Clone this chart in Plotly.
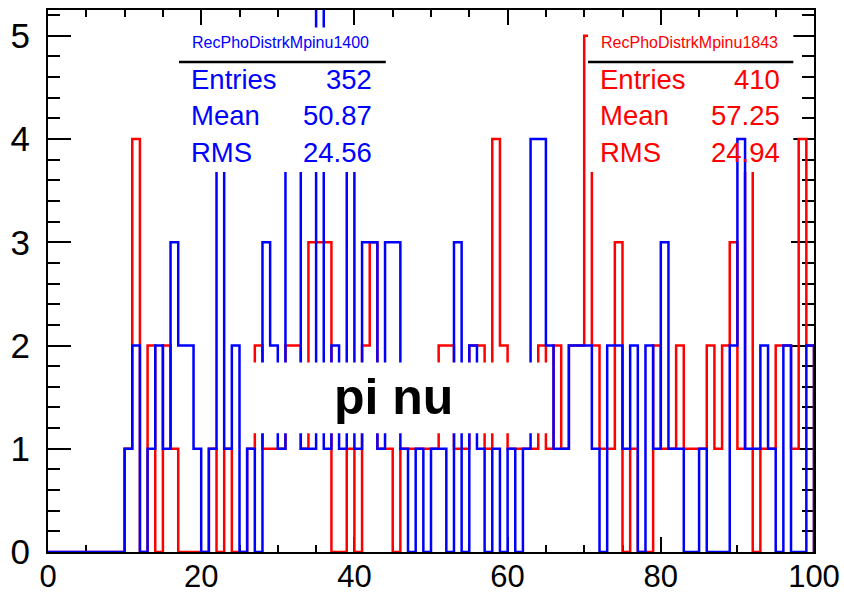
import numpy as np
import plotly.graph_objects as go

# ---- data -------------------------------------------------------------
bin_edges = np.arange(0, 101, 1)

blue_counts = [0, 0, 0, 0, 0, 0, 0, 0, 0, 0,
               1, 2, 0, 1, 2, 1, 3, 2, 2, 1,
               0, 1, 4, 1, 2, 0, 1, 0, 3, 2,
               1, 4, 4, 1, 1, 6, 1, 2, 1, 4,
               1, 3, 3, 1, 3, 3, 1, 0, 1, 0,
               1, 1, 0, 3, 0, 2, 1, 0, 1, 0,
               1, 0, 1, 4, 4, 2, 1, 1, 2, 2,
               2, 1, 0, 2, 2, 1, 2, 0, 2, 1,
               3, 1, 1, 0, 0, 1, 0, 0, 0, 2,
               4, 1, 1, 2, 1, 0, 2, 0, 0, 2]

red_counts = [0, 0, 0, 0, 0, 0, 0, 0, 0, 0,
              1, 4, 0, 2, 0, 2, 1, 0, 0, 0,
              0, 1, 0, 1, 0, 0, 1, 2, 1, 1,
              1, 2, 2, 1, 3, 3, 3, 0, 0, 1,
              0, 2, 3, 1, 1, 0, 1, 1, 1, 1,
              1, 2, 2, 1, 1, 2, 2, 1, 4, 2,
              1, 1, 1, 1, 2, 1, 2, 1, 2, 2,
              5, 2, 1, 1, 3, 0, 1, 0, 0, 2,
              1, 1, 2, 1, 1, 1, 2, 1, 2, 3,
              1, 4, 0, 1, 1, 2, 2, 1, 4, 2]

hist_names = ["RecPhoDistrkMpinu1400", "RecPhoDistrkMpinu1843"]
stat_labels = ["Entries", "Mean", "RMS"]
blue_stats = ["352", "50.87", "24.56"]
red_stats = ["410", "57.25", "24.94"]
x_ticks = [0, 20, 40, 60, 80, 100]
y_ticks = [0, 1, 2, 3, 4, 5]
tag_text = "pi nu"

# ---- styling ----------------------------------------------------------
BLUE = "#0000ff"
RED = "#ff0000"
FONT = "Arial, Liberation Sans, Helvetica, sans-serif"
Y_MAX = 5.25


def outline(counts):
    """Step outline of a histogram, ROOT style (closed down to zero at both ends)."""
    c = np.asarray(counts, dtype=float)
    xs = np.repeat(bin_edges, 2)
    ys = np.concatenate([[0.0], np.repeat(c, 2), [0.0]])
    return xs, ys


fig = go.Figure()

# red histogram (drawn first, sits underneath)
rx, ry = outline(red_counts)
fig.add_trace(go.Scatter(x=rx, y=ry, mode="lines",
                         line=dict(color=RED, width=2.5),
                         hoverinfo="skip", showlegend=False))

# red statistics box background: covers the red histogram only
RBOX = dict(x0=70.5, x1=97.3, y0=3.68, y1=5.08)
fig.add_trace(go.Scatter(x=[RBOX["x0"], RBOX["x1"], RBOX["x1"], RBOX["x0"], RBOX["x0"]],
                         y=[RBOX["y0"], RBOX["y0"], RBOX["y1"], RBOX["y1"], RBOX["y0"]],
                         mode="lines", fill="toself", fillcolor="white",
                         line=dict(width=0, color="white"),
                         hoverinfo="skip", showlegend=False))

# blue histogram on top
bx, by = outline(blue_counts)
fig.add_trace(go.Scatter(x=bx, y=by, mode="lines",
                         line=dict(color=BLUE, width=2.5),
                         hoverinfo="skip", showlegend=False))

# blue statistics box (above everything)
BBOX = dict(x0=17.1, x1=44.1, y0=3.68, y1=5.08)
fig.add_shape(type="rect", xref="x", yref="y", layer="above",
              fillcolor="white", line=dict(width=0), **BBOX)

# title separators
for box in (BBOX, RBOX):
    fig.add_shape(type="line", xref="x", yref="y", layer="above",
                  x0=box["x0"], x1=box["x1"], y0=4.746, y1=4.746,
                  line=dict(color="black", width=2.5))

# "pi nu" label box
fig.add_shape(type="rect", xref="x", yref="y", layer="above",
              x0=26.2, x1=65.6, y0=1.15, y1=1.835,
              fillcolor="white", line=dict(width=0))
fig.add_annotation(x=45.1, y=1.5, xref="x", yref="y", text=f"<b>{tag_text}</b>",
                   showarrow=False, font=dict(family=FONT, size=50, color="black"))

# statistics text
row_y = [4.58, 4.23, 3.87]
boxes = [
    (BBOX, BLUE, hist_names[0], blue_stats, 30.4, 18.4, 42.5),
    (RBOX, RED, hist_names[1], red_stats, 83.8, 71.8, 95.8),
]
for box, col, name, vals, tx, lx, vx in boxes:
    fig.add_annotation(x=tx, y=4.94, xref="x", yref="y", text=name, showarrow=False,
                       xanchor="center", yanchor="middle",
                       font=dict(family=FONT, size=16, color=col))
    for lab, val, yy in zip(stat_labels, vals, row_y):
        fig.add_annotation(x=lx, y=yy, xref="x", yref="y", text=lab, showarrow=False,
                           xanchor="left", yanchor="middle",
                           font=dict(family=FONT, size=27.5, color=col))
        fig.add_annotation(x=vx, y=yy, xref="x", yref="y", text=val, showarrow=False,
                           xanchor="right", yanchor="middle",
                           font=dict(family=FONT, size=27.5, color=col))

axis_common = dict(showline=True, linecolor="black", linewidth=2, mirror="allticks",
                   ticks="inside", tickcolor="black", tickwidth=2,
                   showgrid=False, zeroline=False, layer="below traces",
                   automargin=False)

fig.update_xaxes(range=[0, 100], tickvals=x_ticks, ticklen=15,
                 minor=dict(dtick=5, ticklen=7, ticks="inside", tickcolor="black",
                            tickwidth=2, showgrid=False),
                 ticklabelstandoff=-4,
                 tickfont=dict(family=FONT, size=31, color="black"), **axis_common)
fig.update_yaxes(range=[0, Y_MAX], tickvals=y_ticks, ticklen=23,
                 minor=dict(dtick=0.2, ticklen=12, ticks="inside", tickcolor="black",
                            tickwidth=2, showgrid=False),
                 ticklabelstandoff=9,
                 tickfont=dict(family=FONT, size=35, color="black"), **axis_common)

fig.update_layout(width=844, height=596,
                  margin=dict(l=47.7, r=30, t=9.7, b=44, pad=0),
                  paper_bgcolor="white", plot_bgcolor="white",
                  showlegend=False)

fig.write_html("out.html")
